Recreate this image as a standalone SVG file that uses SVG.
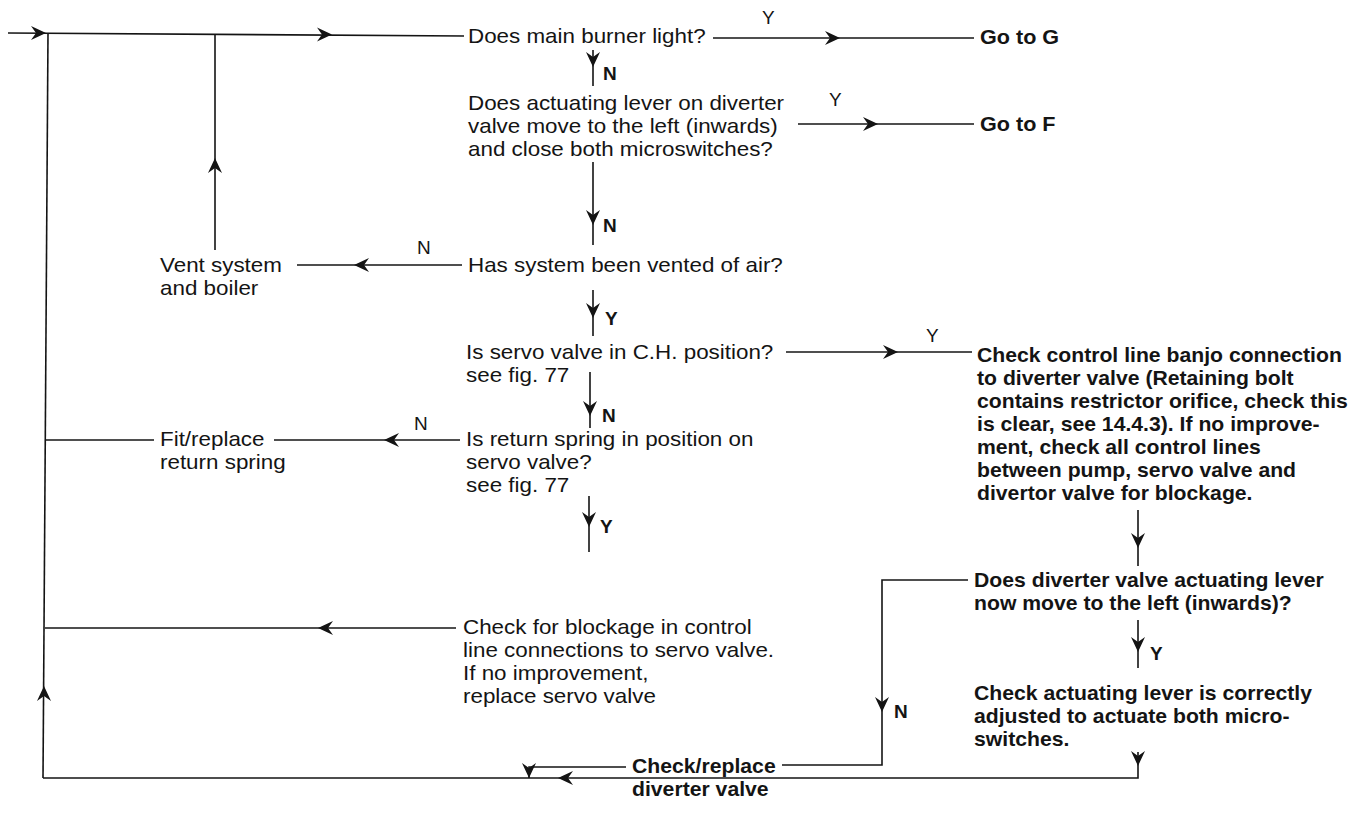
<svg xmlns="http://www.w3.org/2000/svg" width="1351" height="813" viewBox="0 0 1351 813">
<style>
.t{font-family:"Liberation Sans",Arial,Helvetica,sans-serif;font-size:20px;fill:#141414}
.hb{font-weight:bold}
.l{font-family:"Liberation Sans",Arial,Helvetica,sans-serif;font-size:19px;fill:#141414}
.c{fill:none;stroke:#141414;stroke-width:1.6}
</style>
<defs>
<path id="ah" d="M0,0 L-15,-7 L-10,0 L-15,7 Z" fill="#141414"/>
</defs>
<rect width="1351" height="813" fill="#ffffff"/>
<g id="connectors">
<path class="c" d="M8,33 L464,36"/>
<path class="c" d="M48,33 L43,778"/>
<path class="c" d="M215,34 V250"/>
<path class="c" d="M713,38 H974"/>
<path class="c" d="M593,50 V86"/>
<path class="c" d="M798,124 H974"/>
<path class="c" d="M593,162 V245"/>
<path class="c" d="M462,265 H297"/>
<path class="c" d="M593,290 V336"/>
<path class="c" d="M786,352 H972"/>
<path class="c" d="M590,372 V428"/>
<path class="c" d="M460,440 H274"/>
<path class="c" d="M154,440 H46"/>
<path class="c" d="M589,496 V552"/>
<path class="c" d="M456,628 H45"/>
<path class="c" d="M1138,510 V566"/>
<path class="c" d="M968,580 H882 V765 H782"/>
<path class="c" d="M1138,620 V668"/>
<path class="c" d="M1138,752 V778 H43"/>
<path class="c" d="M626,767 H529 V778"/>
<use href="#ah" transform="translate(46,33)"/>
<use href="#ah" transform="translate(332,34.5)"/>
<use href="#ah" transform="translate(44,686) rotate(-90)"/>
<use href="#ah" transform="translate(215,158) rotate(-90)"/>
<use href="#ah" transform="translate(840,38)"/>
<use href="#ah" transform="translate(593,67) rotate(90)"/>
<use href="#ah" transform="translate(878,124)"/>
<use href="#ah" transform="translate(593,225) rotate(90)"/>
<use href="#ah" transform="translate(354,265) rotate(180)"/>
<use href="#ah" transform="translate(593,318) rotate(90)"/>
<use href="#ah" transform="translate(898,352)"/>
<use href="#ah" transform="translate(590,416) rotate(90)"/>
<use href="#ah" transform="translate(384,440) rotate(180)"/>
<use href="#ah" transform="translate(589,527) rotate(90)"/>
<use href="#ah" transform="translate(318,628) rotate(180)"/>
<use href="#ah" transform="translate(1138,548) rotate(90)"/>
<use href="#ah" transform="translate(882,712) rotate(90)"/>
<use href="#ah" transform="translate(1138,652) rotate(90)"/>
<use href="#ah" transform="translate(1138,766) rotate(90)"/>
<use href="#ah" transform="translate(558,778) rotate(180)"/>
<use href="#ah" transform="translate(529,778) rotate(90)"/>
<text class="l" x="762" y="24">Y</text>
<text class="l hb" x="603" y="80">N</text>
<text class="l" x="829" y="106">Y</text>
<text class="l hb" x="603" y="232">N</text>
<text class="l" x="417" y="254">N</text>
<text class="l hb" x="605" y="325">Y</text>
<text class="l" x="926" y="342">Y</text>
<text class="l hb" x="602" y="422">N</text>
<text class="l" x="414" y="430">N</text>
<text class="l hb" x="600" y="533">Y</text>
<text class="l hb" x="894" y="718">N</text>
<text class="l hb" x="1150" y="660">Y</text>
</g>
<g id="q1"><text class="t" transform="translate(468,43) scale(1.12,1)">Does main burner light?</text></g>
<g id="goG"><text class="t hb" transform="translate(980,44) scale(1.08,1)">Go to G</text></g>
<g id="q2"><text class="t" transform="translate(468,110) scale(1.12,1)"><tspan x="0" y="0">Does actuating lever on diverter</tspan><tspan x="0" y="23">valve move to the left (inwards)</tspan><tspan x="0" y="46">and close both microswitches?</tspan></text></g>
<g id="goF"><text class="t hb" transform="translate(980,131) scale(1.08,1)">Go to F</text></g>
<g id="q3"><text class="t" transform="translate(468,272) scale(1.12,1)">Has system been vented of air?</text></g>
<g id="vent"><text class="t" transform="translate(160,272) scale(1.12,1)"><tspan x="0" y="0">Vent system</tspan><tspan x="0" y="23">and boiler</tspan></text></g>
<g id="q4"><text class="t" transform="translate(466,359) scale(1.12,1)"><tspan x="0" y="0">Is servo valve in C.H. position?</tspan><tspan x="0" y="23">see fig. 77</tspan></text></g>
<g id="banjo"><text class="t hb" transform="translate(977,362) scale(1.06,1)"><tspan x="0" y="0">Check control line banjo connection</tspan><tspan x="0" y="23">to diverter valve (Retaining bolt</tspan><tspan x="0" y="46">contains restrictor orifice, check this</tspan><tspan x="0" y="69">is clear, see 14.4.3). If no improve-</tspan><tspan x="0" y="92">ment, check all control lines</tspan><tspan x="0" y="115">between pump, servo valve and</tspan><tspan x="0" y="138">divertor valve for blockage.</tspan></text></g>
<g id="q5"><text class="t" transform="translate(466,446) scale(1.12,1)"><tspan x="0" y="0">Is return spring in position on</tspan><tspan x="0" y="23">servo valve?</tspan><tspan x="0" y="46">see fig. 77</tspan></text></g>
<g id="spring"><text class="t" transform="translate(160,446) scale(1.12,1)"><tspan x="0" y="0">Fit/replace</tspan><tspan x="0" y="23">return spring</tspan></text></g>
<g id="blockage"><text class="t" transform="translate(463,634) scale(1.12,1)"><tspan x="0" y="0">Check for blockage in control</tspan><tspan x="0" y="23">line connections to servo valve.</tspan><tspan x="0" y="46">If no improvement,</tspan><tspan x="0" y="69">replace servo valve</tspan></text></g>
<g id="q6"><text class="t hb" transform="translate(974,587) scale(1.06,1)"><tspan x="0" y="0">Does diverter valve actuating lever</tspan><tspan x="0" y="23">now move to the left (inwards)?</tspan></text></g>
<g id="lever"><text class="t hb" transform="translate(974,700) scale(1.06,1)"><tspan x="0" y="0">Check actuating lever is correctly</tspan><tspan x="0" y="23">adjusted to actuate both micro-</tspan><tspan x="0" y="46">switches.</tspan></text></g>
<g id="diverter"><text class="t hb" transform="translate(632,773) scale(1.06,1)"><tspan x="0" y="0">Check/replace</tspan><tspan x="0" y="23">diverter valve</tspan></text></g>
</svg>
